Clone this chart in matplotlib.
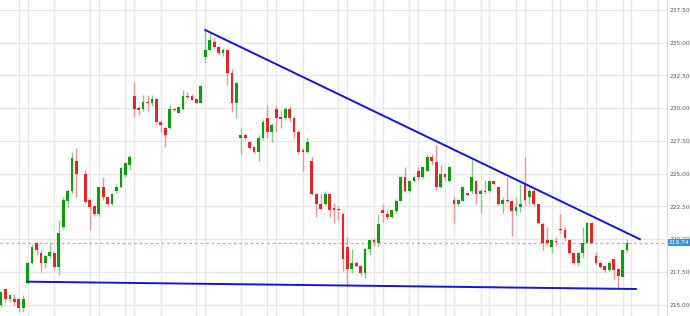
import numpy as np
import matplotlib
matplotlib.use("Agg")
from matplotlib import pyplot as plt
from matplotlib import transforms

# OHLC per session (index 18 is a gap in the chart)
opens = [214.98, 216.2, 215.44, 215.42, 215.42, 214.73, 216.68, 218.21, 219.74, 218.97,
         218.21, 218.72, 218.97, 217.9, 220.91, 222.94, 223.71, 225.97, np.nan, 224.98,
         223.0, 222.5, 221.93, 223.97, 223.2, 222.69, 223.71, 224.01, 224.9, 225.67,
         230.96, 230.0, 229.95, 230.5, 230.43, 230.68, 228.97, 228.47, 228.47, 229.92,
         229.66, 229.92, 230.92, 230.94, 230.68, 230.43, 233.89, 234.45, 235.08, 234.7,
         234.2, 234.45, 232.72, 230.43, 227.7, 227.96, 227.45, 227.02, 226.69, 227.7,
         229.23, 228.21, 229.94, 229.3, 229.23, 229.94, 229.23, 228.21, 226.8, 226.69,
         225.97, 223.43, 222.69, 222.69, 223.43, 222.36, 222.3, 221.95, 219.4, 217.7,
         218.21, 217.96, 217.45, 219.23, 219.94, 219.74, 222.23, 221.93, 221.67, 222.18,
         222.94, 224.73, 223.71, 224.47, 225.23, 224.73, 225.23, 226.25, 225.92, 223.97,
         224.98, 224.47, 223.0, 222.69, 222.94, 223.5, 223.71, 224.47, 223.45, 223.7,
         223.71, 224.47, 223.97, 222.69, 223.0, 222.94, 222.18, 222.44, 224.22, 223.2,
         223.71, 222.69, 221.16, 219.94, 219.43, 219.9, 220.8, 220.71, 219.94, 218.97,
         218.21, 218.97, 219.74, 221.22, 218.72, 218.21, 217.96, 217.65, 218.47, 217.7,
         217.14, 219.18]
highs = [216.0, 216.3, 215.82, 215.8, 215.5, 215.74, 218.3, 219.6, 219.8, 219.18,
         218.8, 219.69, 219.0, 221.47, 223.2, 223.81, 226.68, 226.94, np.nan, 225.29,
         223.05, 222.6, 224.0, 224.73, 223.25, 223.55, 224.2, 225.54, 225.9, 226.4,
         232.0, 230.17, 231.0, 231.0, 231.0, 230.75, 229.0, 228.55, 230.25, 230.0,
         230.1, 231.4, 231.2, 231.1, 230.75, 231.8, 235.97, 235.72, 235.46, 234.75,
         234.6, 234.5, 232.97, 232.0, 228.47, 228.1, 227.5, 227.1, 227.96, 229.18,
         230.25, 228.9, 230.17, 229.9, 230.1, 230.2, 229.4, 228.3, 226.94, 227.7,
         226.25, 223.5, 223.45, 223.7, 223.5, 222.74, 222.54, 221.98, 220.2, 219.23,
         218.3, 218.0, 219.3, 220.0, 220.1, 221.93, 222.69, 222.23, 222.3, 223.05,
         224.8, 225.49, 224.5, 224.8, 225.49, 225.5, 226.5, 226.5, 227.2, 225.67,
         225.05, 225.6, 223.25, 223.05, 224.1, 223.55, 226.18, 224.5, 223.8, 224.5,
         224.5, 224.55, 224.0, 223.25, 224.73, 223.0, 223.23, 224.22, 226.26, 223.9,
         223.8, 222.7, 221.34, 220.91, 220.0, 220.2, 221.93, 220.9, 220.0, 219.0,
         219.0, 220.91, 221.3, 221.3, 219.05, 218.3, 218.0, 218.3, 218.5, 217.8,
         219.2, 220.0]
lows = [214.8, 215.23, 215.23, 214.98, 214.47, 214.47, 216.6, 218.1, 218.8, 217.52,
        217.78, 218.6, 217.7, 217.27, 220.76, 222.49, 223.51, 223.25, np.nan, 222.74,
        220.71, 221.77, 221.8, 223.0, 222.5, 222.6, 223.55, 223.9, 224.78, 225.29,
        229.3, 229.5, 229.75, 229.8, 230.2, 228.8, 228.21, 227.02, 228.4, 229.8,
        229.6, 229.9, 230.7, 230.6, 230.4, 230.4, 233.48, 234.4, 234.6, 234.1,
        234.0, 231.77, 229.74, 229.23, 226.51, 227.6, 226.9, 226.6, 225.97, 227.6,
        227.7, 227.45, 228.21, 228.5, 229.1, 228.98, 227.75, 226.5, 225.21, 226.6,
        223.4, 221.72, 222.2, 222.61, 221.72, 221.22, 221.47, 217.55, 216.4, 217.45,
        217.9, 217.27, 217.02, 218.8, 219.5, 219.48, 221.34, 221.47, 221.6, 221.98,
        222.9, 223.63, 223.6, 224.4, 224.52, 224.7, 225.2, 225.7, 223.76, 223.9,
        224.5, 224.4, 221.22, 222.5, 222.9, 223.35, 223.45, 222.69, 221.98, 223.45,
        223.6, 224.15, 222.6, 221.98, 222.8, 220.25, 221.85, 222.1, 222.5, 222.69,
        222.5, 221.2, 219.18, 219.48, 218.97, 219.5, 220.5, 219.9, 218.9, 218.1,
        217.96, 218.55, 219.7, 219.7, 218.1, 217.8, 217.5, 217.6, 216.94, 216.25,
        217.1, 219.0]
closes = [215.99, 215.42, 215.74, 215.23, 214.73, 215.42, 218.21, 219.43, 219.18, 218.21,
          218.72, 219.03, 217.9, 220.45, 222.99, 223.71, 226.18, 224.96, np.nan, 222.87,
          222.44, 221.93, 223.97, 223.2, 222.69, 223.45, 223.97, 225.42, 225.8, 226.26,
          229.95, 229.87, 230.45, 230.42, 230.68, 228.97, 228.72, 227.96, 229.92, 229.85,
          230.07, 230.94, 230.86, 230.63, 230.43, 231.72, 234.45, 235.21, 234.7, 234.2,
          234.45, 232.72, 230.43, 231.95, 227.96, 227.7, 226.94, 226.69, 227.75, 228.93,
          228.21, 228.72, 229.23, 229.2, 229.94, 229.23, 228.21, 226.69, 226.65, 227.45,
          223.43, 222.67, 222.3, 223.43, 222.2, 222.2, 222.2, 218.5, 217.7, 218.21,
          217.96, 217.45, 219.23, 219.94, 219.8, 221.16, 221.98, 221.67, 222.23, 222.94,
          224.73, 223.71, 224.47, 224.73, 224.73, 225.49, 226.25, 226.0, 223.97, 224.98,
          224.73, 225.49, 222.69, 223.0, 223.97, 223.4, 224.73, 223.45, 223.71, 223.6,
          224.47, 224.22, 222.69, 223.0, 222.9, 222.18, 222.44, 222.69, 223.0, 223.71,
          222.69, 221.22, 219.74, 219.74, 219.94, 219.8, 220.7, 220.07, 218.97, 218.21,
          218.97, 219.74, 221.22, 219.74, 218.21, 217.9, 217.65, 218.21, 217.65, 217.19,
          219.18, 219.74]

# trend lines: (session index, price) end points
resistance = [(46.0, 235.97), (143.9, 220.0)]
support = [(5.9, 216.76), (143.0, 216.2)]

# date grid lines (session index)
grid_sessions = [4, 6, 12, 20, 22, 28, 30, 36, 44, 46, 54, 60, 62, 68, 76, 78,
                 84, 86, 92, 94, 100, 102, 108, 110, 116, 118, 124, 126, 132, 134,
                 140, 142, 148]
price_ticks = [215.0, 217.5, 220.0, 222.5, 225.0, 227.5, 230.0, 232.5, 235.0, 237.5]

GREEN = '#0c9e0c'
RED = '#e62626'

o = np.array(opens)
h = np.array(highs)
l = np.array(lows)
c = np.array(closes)
x = np.arange(len(o))
up = c >= o

fig = plt.figure(figsize=(6.9, 3.16), dpi=100)
ax = fig.add_axes([0, 0, 667 / 690, 1])

for g in grid_sessions:
    ax.axvline(g, color='#e8e8e8', lw=1, zorder=0)
for t in price_ticks:
    ax.axhline(t, color='#e8e8e8', lw=1, zorder=0)

# wicks
ax.vlines(x[up], l[up], h[up], color='#86cc86', lw=1, zorder=2)
ax.vlines(x[~up], l[~up], h[~up], color='#f29494', lw=1, zorder=2)

# bodies
bottom = np.minimum(o, c)
height = np.maximum(np.abs(c - o), 0.07)
ax.bar(x[up], height[up], bottom=bottom[up], width=0.62, color=GREEN,
       lw=0, zorder=3)
ax.bar(x[~up], height[~up], bottom=bottom[~up], width=0.62, color=RED,
       lw=0, zorder=3)

# last price line
last = closes[-1]
ax.axhline(last, color='#f29a9a', lw=1, ls=(0, (2, 2)), zorder=1)

# trend lines
for line in (resistance, support):
    xs, ys = zip(*line)
    ax.plot(xs, ys, color='#1414e6', lw=1.4, zorder=4)

ax.set_xlim(-0.23, 150)
ax.set_ylim(214.14, 238.26)

for s in ('top', 'left', 'bottom'):
    ax.spines[s].set_visible(False)
ax.spines['right'].set_color('#dcdcdc')
ax.set_xticks([])
ax.yaxis.tick_right()
ax.set_yticks(price_ticks)
ax.set_yticklabels([f"{t:.2f}".replace('.', ',') for t in price_ticks])
ax.tick_params(axis='y', length=0, pad=1.5, labelsize=4.2, labelcolor='#555555')

trans = transforms.blended_transform_factory(ax.transAxes, ax.transData)
ax.text(1.003, last, f"{last:.2f}".replace('.', ','), transform=trans,
        fontsize=4.2, color='white', va='center', ha='left', zorder=10,
        bbox=dict(boxstyle='square,pad=0.15', fc='#3f8fe0', ec='none'))

fig.savefig('out.png', dpi=100)
